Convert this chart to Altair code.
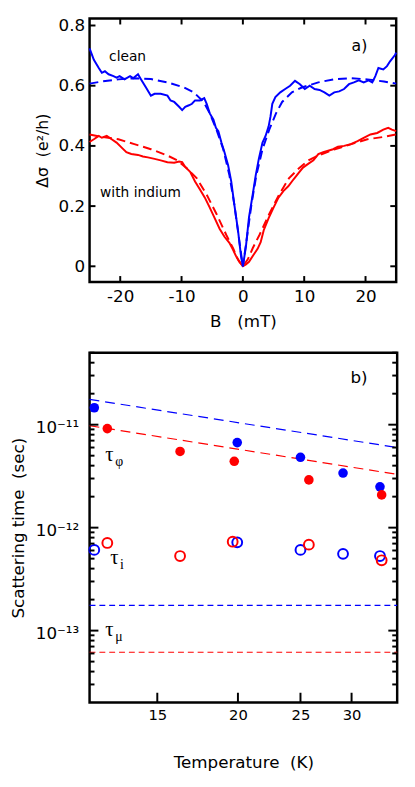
import altair as alt
import pandas as pd

BLUE = "#0000ff"
RED = "#ff0000"
FONT = "DejaVu Sans"
NB = "\u00a0"

# ---------------- panel a: magnetoconductance ----------------
B_clean = [-25.0, -24.3, -23.5, -23.0, -22.5, -21.9, -21.1, -20.6, -20.1, -19.3, -18.4, -17.9, -17.1, -16.6,
           -15.8, -15.0, -14.4, -13.4, -12.3, -11.8, -11.2, -10.4, -9.9, -9.4, -8.8, -8.3, -7.8, -7.0, -6.3,
           -5.9, -5.4, -4.8, -4.4, -4.0, -3.5, -3.0, -2.4, -1.9, -1.4, -0.8, -0.3, 0.0, 0.5, 1.0, 1.6, 2.1,
           2.6, 3.2, 3.7, 4.2, 4.5, 4.8, 5.3, 6.1, 6.9, 7.7, 8.5, 9.3, 10.1, 10.9, 11.7, 12.5, 13.3, 14.1,
           14.9, 15.7, 16.5, 17.3, 18.1, 18.9, 19.7, 20.5, 21.1, 21.6, 22.1, 22.9, 23.5, 24.0, 24.8, 25.0]
S_clean = [0.724, 0.686, 0.659, 0.643, 0.648, 0.638, 0.632, 0.627, 0.632, 0.621, 0.632, 0.625, 0.638, 0.621,
           0.594, 0.567, 0.573, 0.573, 0.567, 0.551, 0.546, 0.530, 0.519, 0.530, 0.535, 0.540, 0.551, 0.551,
           0.559, 0.540, 0.508, 0.487, 0.460, 0.449, 0.411, 0.379, 0.335, 0.282, 0.206, 0.120, 0.033, 0.0,
           0.066, 0.163, 0.238, 0.303, 0.357, 0.411, 0.433, 0.465, 0.497, 0.540, 0.562, 0.578, 0.589, 0.600,
           0.616, 0.605, 0.589, 0.600, 0.589, 0.586, 0.578, 0.567, 0.578, 0.581, 0.589, 0.605, 0.611, 0.618,
           0.611, 0.618, 0.611, 0.632, 0.659, 0.654, 0.665, 0.681, 0.702, 0.710]

B_clean_fit = [-25, -23, -20.3, -17.7, -15, -12.3, -9.6, -8, -6.4, -5.4, -4.3, -3.2, -2.2, -1.4, -0.6, 0,
               0.6, 1.4, 2.2, 3.2, 4.3, 5.4, 6.4, 8, 9.6, 12.3, 15, 17.7, 20.3, 23, 25]
S_clean_fit = [0.607, 0.614, 0.621, 0.625, 0.622, 0.611, 0.594, 0.578, 0.546, 0.508, 0.454, 0.389, 0.303,
               0.206, 0.087, 0.0, 0.087, 0.206, 0.303, 0.389, 0.454, 0.508, 0.546, 0.578, 0.594, 0.611,
               0.622, 0.625, 0.621, 0.614, 0.607]

B_indium = [-25.0, -24.3, -23.5, -23.0, -22.2, -21.4, -20.6, -19.8, -19.0, -18.2, -17.1, -16.3, -15.5, -14.4,
            -13.4, -12.3, -11.2, -10.4, -9.9, -9.4, -8.6, -7.8, -7.0, -6.2, -5.4, -4.6, -3.8, -3.0, -2.2,
            -1.6, -1.1, -0.6, 0.0, 0.5, 1.0, 1.8, 2.4, 2.9, 3.4, 4.2, 5.0, 5.8, 6.6, 7.4, 8.3, 9.1, 9.8,
            10.7, 11.5, 12.3, 13.1, 13.9, 14.7, 15.5, 16.5, 17.6, 18.7, 19.7, 20.8, 21.9, 22.9, 23.7, 24.3, 25.0]
S_indium = [0.413, 0.422, 0.433, 0.427, 0.433, 0.422, 0.411, 0.395, 0.379, 0.373, 0.370, 0.365, 0.362, 0.357,
            0.352, 0.346, 0.344, 0.348, 0.346, 0.330, 0.314, 0.282, 0.255, 0.228, 0.195, 0.160, 0.125, 0.098,
            0.078, 0.055, 0.033, 0.015, 0.0, 0.006, 0.015, 0.040, 0.058, 0.080, 0.120, 0.160, 0.195, 0.228,
            0.250, 0.266, 0.290, 0.310, 0.328, 0.341, 0.352, 0.373, 0.379, 0.384, 0.389, 0.397, 0.400, 0.406,
            0.416, 0.427, 0.438, 0.443, 0.454, 0.460, 0.454, 0.449]

B_indium_fit = [-25, -23, -20.3, -17.7, -15, -12.3, -10.7, -9.1, -7.5, -5.9, -4.3, -2.7, -1.6, -0.8, 0,
                0.8, 1.6, 2.7, 4.3, 5.9, 7.5, 9.1, 10.7, 12.3, 15, 17.7, 20.3, 23, 25]
S_indium_fit = [0.438, 0.430, 0.422, 0.406, 0.389, 0.368, 0.352, 0.325, 0.292, 0.238, 0.174, 0.104, 0.060,
                0.023, 0.0, 0.023, 0.060, 0.104, 0.174, 0.238, 0.292, 0.325, 0.352, 0.368, 0.389, 0.406,
                0.422, 0.430, 0.438]

a_xticks = [-20, -10, 0, 10, 20]
a_yticks = [0, 0.2, 0.4, 0.6, 0.8]
a_xdomain = [-25, 25]
a_ydomain = [-0.052, 0.823]

a_notes_text = ["clean", "with indium"]
a_notes_B = [-18.8, -16.7]
a_notes_S = [0.696, 0.243]
a_tag_B = [19.0]
a_tag_S = [0.73]

# ---------------- panel b: scattering times ----------------
T_clean = [11.98, 19.95, 25.0, 29.1, 33.2]
tphi_clean = [1.46e-11, 6.7e-12, 4.82e-12, 3.39e-12, 2.49e-12]
ti_clean = [6.08e-13, 7.2e-13, 6.08e-13, 5.57e-13, 5.3e-13]

T_indium = [12.55, 16.27, 19.74, 25.76, 33.4]
tphi_indium = [9.16e-12, 5.5e-12, 4.41e-12, 2.91e-12, 2.08e-12]
T_indium_i = [12.55, 16.27, 19.63, 25.76, 33.4]
ti_indium = [7.1e-13, 5.3e-13, 7.3e-13, 6.84e-13, 4.82e-13]

T_fit = [11.78, 35.3]
tphi_fit_clean = [1.76e-11, 6.0e-12]
tphi_fit_indium = [9.78e-12, 3.29e-12]
tmu_clean = [1.76e-13, 1.76e-13]
tmu_indium = [6.16e-14, 6.16e-14]

b_xdomain = [11.78, 35.3]
b_ydomain = [2e-14, 5e-11]
b_xticks = [15, 20, 25, 30]
b_ymajor = [1e-13, 1e-12, 1e-11]
b_ylabels = ["10⁻¹³", "10⁻¹²", "10⁻¹¹"]
b_yminor = [k * 10.0 ** e for e in (-14, -13, -12, -11) for k in range(2, 10)
            if b_ydomain[0] < k * 10.0 ** e < b_ydomain[1]]

tau_T = [12.46, 12.68, 12.46]
tau_v = [5.07e-12, 5.07e-13, 1.02e-13]
tau_sub = ["φ", "i", "μ"]
b_tag_T = [30.8]
b_tag_v = [2.86e-11]

# ================= build panel a =================
WA, HA = 312, 268
xa_scale = alt.Scale(domain=a_xdomain, nice=False, zero=False)
ya_scale = alt.Scale(domain=a_ydomain, nice=False, zero=False)
xa_axis = alt.Axis(values=a_xticks, labelExpr="datum.value + ''", title=f"B{NB}{NB}{NB}(mT)",
                   labelFontSize=17, titleFontSize=17, labelPadding=7, titlePadding=9)
ya_axis = alt.Axis(values=a_yticks, labelExpr="datum.value == 0 ? '0' : format(datum.value, '.1f')",
                   title=f"Δσ{NB}{NB}(e²/h)", labelFontSize=17, titleFontSize=16,
                   labelPadding=5, titlePadding=8)


def curve(B, S, color, dash=None, first=False):
    df = pd.DataFrame({"B": B, "S": S})
    kw = dict(color=color, strokeWidth=2)
    if dash:
        kw["strokeDash"] = dash
    if first:
        enc = dict(x=alt.X("B:Q", scale=xa_scale, axis=xa_axis),
                   y=alt.Y("S:Q", scale=ya_scale, axis=ya_axis))
    else:
        enc = dict(x=alt.X("B:Q"), y=alt.Y("S:Q"))
    return alt.Chart(df).mark_line(**kw).encode(**enc)


a_layers = [
    curve(B_indium, S_indium, RED, first=True),
    curve(B_indium_fit, S_indium_fit, RED, dash=[9, 5]),
    curve(B_clean, S_clean, BLUE),
    curve(B_clean_fit, S_clean_fit, BLUE, dash=[9, 5]),
]
xt = pd.DataFrame({"B": a_xticks})
yt = pd.DataFrame({"S": a_yticks})
TK = 6
a_layers += [
    alt.Chart(xt).mark_rule(color="black", strokeWidth=2).encode(x="B:Q", y=alt.value(HA), y2=alt.value(HA - TK)),
    alt.Chart(xt).mark_rule(color="black", strokeWidth=2).encode(x="B:Q", y=alt.value(0), y2=alt.value(TK)),
    alt.Chart(yt).mark_rule(color="black", strokeWidth=2).encode(y="S:Q", x=alt.value(0), x2=alt.value(TK)),
    alt.Chart(yt).mark_rule(color="black", strokeWidth=2).encode(y="S:Q", x=alt.value(WA), x2=alt.value(WA - TK)),
    alt.Chart(pd.DataFrame({"B": a_notes_B, "S": a_notes_S, "t": a_notes_text})).mark_text(
        font=FONT, fontSize=14, color="black").encode(x="B:Q", y="S:Q", text="t:N"),
    alt.Chart(pd.DataFrame({"B": a_tag_B, "S": a_tag_S, "t": ["a)"]})).mark_text(
        font=FONT, fontSize=16, color="black").encode(x="B:Q", y="S:Q", text="t:N"),
]
panel_a = alt.layer(*a_layers).properties(width=WA, height=HA)

# ================= build panel b =================
WB, HB = 313, 356
xb_scale = alt.Scale(type="log", domain=b_xdomain, nice=False)
yb_scale = alt.Scale(type="log", domain=b_ydomain, nice=False)
label_expr = " : ".join(
    [f"abs(log(datum.value)/log(10) - ({e})) < 0.1 ? '{lab}'" for e, lab in zip((-13, -12, -11), b_ylabels)]
) + " : ''"
xb_axis = alt.Axis(values=b_xticks, labelExpr="datum.value + ''", title=f"Temperature{NB}{NB}(K)",
                   labelFontSize=15, titleFontSize=17, labelPadding=5, titlePadding=33)
yb_axis = alt.Axis(values=b_ymajor, labelExpr=label_expr, title=f"Scattering time{NB}{NB}(sec)",
                   labelFontSize=17, titleFontSize=17, labelPadding=11, titlePadding=8, labelOffset=3)

b_layers = []
b_layers.append(
    alt.Chart(pd.DataFrame({"T": T_fit, "v": tphi_fit_clean})).mark_line(
        color=BLUE, strokeWidth=1.2, strokeDash=[10, 6]).encode(
        x=alt.X("T:Q", scale=xb_scale, axis=xb_axis), y=alt.Y("v:Q", scale=yb_scale, axis=yb_axis))
)
b_layers.append(
    alt.Chart(pd.DataFrame({"T": T_fit, "v": tphi_fit_indium})).mark_line(
        color=RED, strokeWidth=1.2, strokeDash=[10, 6]).encode(x="T:Q", y="v:Q"))
b_layers.append(
    alt.Chart(pd.DataFrame({"T": T_fit, "v": tmu_clean})).mark_line(
        color=BLUE, strokeWidth=1.2, strokeDash=[6, 4]).encode(x="T:Q", y="v:Q"))
b_layers.append(
    alt.Chart(pd.DataFrame({"T": T_fit, "v": tmu_indium})).mark_line(
        color=RED, strokeWidth=1.2, strokeDash=[6, 4]).encode(x="T:Q", y="v:Q"))

b_layers.append(
    alt.Chart(pd.DataFrame({"T": T_clean, "v": ti_clean})).mark_point(
        shape="circle", filled=False, color=BLUE, size=100, strokeWidth=2, opacity=1).encode(x="T:Q", y="v:Q"))
b_layers.append(
    alt.Chart(pd.DataFrame({"T": T_indium_i, "v": ti_indium})).mark_point(
        shape="circle", filled=False, color=RED, size=100, strokeWidth=2, opacity=1).encode(x="T:Q", y="v:Q"))
b_layers.append(
    alt.Chart(pd.DataFrame({"T": T_clean, "v": tphi_clean})).mark_circle(
        color=BLUE, size=95, opacity=1).encode(x="T:Q", y="v:Q"))
b_layers.append(
    alt.Chart(pd.DataFrame({"T": T_indium, "v": tphi_indium})).mark_circle(
        color=RED, size=95, opacity=1).encode(x="T:Q", y="v:Q"))

bx = pd.DataFrame({"T": b_xticks})
bmaj = pd.DataFrame({"v": b_ymajor})
bmin = pd.DataFrame({"v": b_yminor})
b_layers += [
    alt.Chart(bx).mark_rule(color="black", strokeWidth=2).encode(x="T:Q", y=alt.value(HB), y2=alt.value(HB - 10)),
    alt.Chart(bmaj).mark_rule(color="black", strokeWidth=2).encode(y="v:Q", x=alt.value(0), x2=alt.value(9)),
    alt.Chart(bmaj).mark_rule(color="black", strokeWidth=2).encode(y="v:Q", x=alt.value(WB), x2=alt.value(WB - 9)),
    alt.Chart(bmin).mark_rule(color="black", strokeWidth=2).encode(y="v:Q", x=alt.value(0), x2=alt.value(5)),
    alt.Chart(bmin).mark_rule(color="black", strokeWidth=2).encode(y="v:Q", x=alt.value(WB), x2=alt.value(WB - 5)),
]
tau_df = pd.DataFrame({"T": tau_T, "v": tau_v, "t": ["τ"] * 3, "s": tau_sub})
b_layers += [
    alt.Chart(tau_df).mark_text(font="Liberation Serif", fontSize=21, align="left", baseline="middle",
                                color="black").encode(x="T:Q", y="v:Q", text="t:N"),
    alt.Chart(tau_df).mark_text(font="Liberation Serif", fontSize=14, align="left", baseline="middle",
                                dx=10, dy=7, color="black").encode(x="T:Q", y="v:Q", text="s:N"),
    alt.Chart(pd.DataFrame({"T": b_tag_T, "v": b_tag_v, "t": ["b)"]})).mark_text(
        font=FONT, fontSize=17, color="black").encode(x="T:Q", y="v:Q", text="t:N"),
]
panel_b = alt.layer(*b_layers).properties(width=WB, height=HB)

chart = alt.vconcat(panel_a, panel_b, spacing=19).properties(
    padding={"left": 0, "top": 0, "right": 5, "bottom": 0}
).configure_view(stroke="black", strokeWidth=2.5).configure_axis(
    domain=False, ticks=False, grid=False, labelFont=FONT, titleFont=FONT,
    titleFontWeight="normal", labelColor="black", titleColor="black"
)

chart.save("out.html", embed_options={"renderer": "svg", "actions": False})
